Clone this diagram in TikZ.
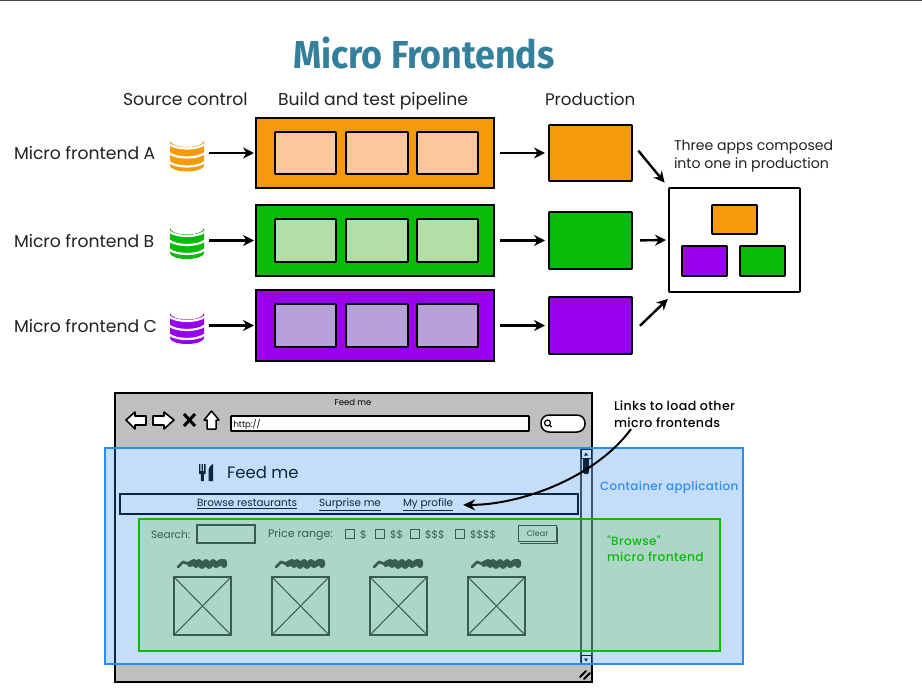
\documentclass[tikz,border=0pt]{standalone}
\usepackage{fontspec}
\setmainfont{Poppins}
\newfontfamily\titlef{Fira Sans}
\newfontfamily\medf[LetterSpace=3]{Poppins Medium}
\usetikzlibrary{arrows.meta,calc}
\definecolor{org}{HTML}{F59A0B}
\definecolor{grn}{HTML}{08BB08}
\definecolor{pur}{HTML}{9900EE}
\definecolor{orgl}{HTML}{FAC89A}
\definecolor{grnl}{HTML}{B2DFA8}
\definecolor{purl}{HTML}{B8A0D8}
\definecolor{teal2}{HTML}{34809C}
\definecolor{ink}{HTML}{222222}
\definecolor{cblue}{HTML}{2E8BF0}
\definecolor{gov}{RGB}{86,182,0}
\colorlet{dimk}{black!82}
\tikzset{
  sz/.style 2 args={minimum width=#1pt,minimum height=#2pt,anchor=north west,inner sep=0pt,outer sep=0pt},
  box/.style={draw=black,line width=1.6pt,rounded corners=0.6pt},
  big/.style={draw=black,line width=2pt},
  txt/.style={font=\fontsize{17.2}{20}\selectfont,inner sep=0pt,outer sep=0pt,anchor=base west,text=ink},
  note/.style={font=\fontsize{14.1}{16}\selectfont,inner sep=0pt,outer sep=0pt,anchor=base west,text=ink},
  lab/.style={font=\medf\fontsize{12}{14}\selectfont,inner sep=0pt,outer sep=0pt,anchor=base west},
  small/.style={inner sep=0pt,outer sep=0pt,anchor=base west,text=black},
  dimsmall/.style={inner sep=0pt,outer sep=0pt,anchor=base west,text=dimk},
  flow/.style={line width=2.4pt,-{Stealth[length=11pt,width=11pt]}},
  pics/dbicon/.style={code={
    \fill[#1] (-17,-12.5) arc[start angle=180,end angle=0,x radius=17,y radius=6.5]
      -- (17,12.5) arc[start angle=0,end angle=180,x radius=17,y radius=6] -- cycle;
    \foreach \yy in {-9,0,9}{
      \draw[white,line width=2.2pt] (-18,\yy) .. controls (-10,\yy+6) and (10,\yy+6) .. (18,\yy);
    }
  }},
  pics/scrib/.style={code={
    \draw[dimk,line width=2.8pt,line cap=round,line join=round]
      (-25,4) -- (-20,-1) -- (-14,1);
    \draw[dimk,line width=6pt,line cap=round,line join=round]
      (-13,1) -- (-9,-1) -- (-7,2) -- (-4,-1) -- (-1,3) -- (3,-1) -- (6,3) -- (10,-1) -- (13,2) -- (18,-1) -- (21,-1) -- (21,2);
  }}
}
\begin{document}
\begin{tikzpicture}[x=1pt,y=-1pt]
\useasboundingbox (0,0) rectangle (922,695);
\fill[white] (0,0) rectangle (922,695);
\fill[black!70] (0,0) rectangle (922,1.2);

% title
\node[inner sep=0pt,text=teal2,font=\titlef\bfseries\fontsize{39}{44}\selectfont,xscale=0.918] (title) at (424,53) {Micro Frontends};

% column heads
\node[txt] (hsrc) at (123,106) {Source control};
\node[txt] (hbuild) at (278,106) {Build and test pipeline};
\node[txt,font=\fontsize{16.7}{20}\selectfont] (hprod) at (545,106) {Production};

% row labels
\node[txt] (labA) at (14,160) {Micro frontend A};
\node[txt] (labB) at (14,248) {Micro frontend B};
\node[txt] (labC) at (14,333) {Micro frontend C};

% repositories
\node[minimum width=34pt,minimum height=38pt,inner sep=0pt] (dbA) at (187,153) {};
\node[minimum width=34pt,minimum height=38pt,inner sep=0pt] (dbB) at (187,240.5) {};
\node[minimum width=34pt,minimum height=38pt,inner sep=0pt] (dbC) at (187,325.5) {};
\pic at (dbA.center) {dbicon=org};
\pic at (dbB.center) {dbicon=grn};
\pic at (dbC.center) {dbicon=pur};

% pipelines
\node[sz={238}{70},big,fill=org] (pipeA) at (256,118) {};
\node[sz={238}{71},big,fill=grn] (pipeB) at (256,205) {};
\node[sz={238}{71},big,fill=pur] (pipeC) at (256,290) {};
\foreach \n/\x/\w in {1/275/61,2/346/62,3/417/61}{
  \node[sz={\w}{42},box,fill=orgl] (pA\n) at (\x,132) {};
  \node[sz={\w}{43},box,fill=grnl] (pB\n) at (\x,219) {};
  \node[sz={\w}{43},box,fill=purl] (pC\n) at (\x,304) {};
}

% production
\node[sz={83}{56},box,fill=org] (prodA) at (549,125) {};
\node[sz={83}{57},box,fill=grn] (prodB) at (549,212) {};
\node[sz={83}{57},box,fill=pur] (prodC) at (549,297) {};

% composed
\node[sz={131}{104},box,fill=white] (comp) at (669,188) {};
\node[sz={45}{29},box,fill=org] (cA) at (712,205) {};
\node[sz={45}{30},box,fill=pur] (cC) at (682,246) {};
\node[sz={45}{30},box,fill=grn] (cB) at (740,246) {};
\node[note] (threeA) at (674,151) {Three apps composed};
\node[note] (threeB) at (674,169) {into one in production};

% flows
\foreach \r in {A,B,C}{
  \draw[flow,shorten <=5pt,shorten >=2pt] (db\r.east) -- (pipe\r.west);
  \draw[flow,shorten <=6pt,shorten >=4pt] (pipe\r.east) -- (prod\r.west);
}
\draw[flow,shorten <=10pt,shorten >=7pt] ([yshift=10pt]prodA.east) -- (comp.north west);
\draw[flow,shorten <=8pt,shorten >=3pt] (prodB.east) -- (comp.west);
\draw[flow,shorten <=11pt,shorten >=10pt] ([yshift=-8pt]prodC.east) -- ([xshift=6pt]comp.south west);

% browser window
\node[sz={477}{289},draw=black,line width=2pt,fill=white] (win) at (115,393) {};
\fill[black!25] (116,394) rectangle (591,448);
\fill[black!25] (116,664) rectangle (591,681);
\node[small,anchor=base,font=\fontsize{8.5}{10}\selectfont] (wtitle) at (353,406) {Feed me};
\draw[fill=white,line width=1.6pt,line join=round] (126,420) -- (135,412) -- (135,416) -- (146,416) -- (146,425) -- (135,425) -- (135,429) -- cycle;
\draw[fill=white,line width=1.6pt,line join=round] (174,420) -- (164,412) -- (164,416) -- (153,416) -- (153,425) -- (164,425) -- (164,429) -- cycle;
\draw[line width=3pt] (184,414) -- (195,426) (195,414) -- (184,426);
\draw[fill=white,line width=1.5pt,line join=round] (211.5,411) -- (219,420) -- (216,420) -- (216,429) -- (207,429) -- (207,420) -- (204,420) -- cycle;
\node[sz={298}{15},box,fill=white] (addr) at (231,416) {};
\node[small,font=\fontsize{8.5}{10}\selectfont] (http) at (233.5,427) {http://};
\node[sz={44}{17},draw=black,line width=1.5pt,fill=white,rounded corners=8pt] (sbox) at (541,415) {};
\draw[line width=1.2pt] (547.5,423) circle (3pt) (549.5,425) -- (551.5,427);

% page content
\fill[black] (199,464) rectangle (200.3,472) (201.6,464) rectangle (202.9,472) (204.2,464) rectangle (205.5,472)
  (199,471) rectangle (205.5,474) (200.8,473) rectangle (203.9,481);
\fill[black] (208.5,481) -- (208.5,470) .. controls (208.5,467) and (211,465) .. (213,464) -- (213,481) -- cycle;
\node[txt,font=\fontsize{16.5}{20}\selectfont,text=black] (feed) at (227,478) {Feed me};
\node[sz={458}{20},draw=black,line width=1.8pt] (navbar) at (120,494) {};
\node[small,font=\fontsize{10.4}{12}\selectfont] (lnk1) at (197,506.5) {\underline{Browse restaurants}};
\node[small,font=\fontsize{10.4}{12}\selectfont] (lnk2) at (319,506.5) {\underline{Surprise me}};
\node[small,font=\fontsize{10.4}{12}\selectfont] (lnk3) at (403,506.5) {\underline{My profile}};

\node[dimsmall,font=\fontsize{10.5}{12}\selectfont] (srch) at (151,538) {Search:};
\node[sz={58}{18},draw=dimk,line width=1.5pt] (srchbox) at (197,525) {};
\node[dimsmall,font=\fontsize{11}{12}\selectfont] (price) at (268,537) {Price range:};
\foreach \n/\x/\t in {1/345/\$,2/375/\$\$,3/410/\$\$\$,4/455/\$\$\$\$}{
  \node[sz={9}{9},draw=dimk,line width=0.8pt] (chk\n) at (\x,529) {};
  \node[dimsmall,font=\fontsize{10.5}{12}\selectfont] (pr\n) at (\x+15,538) {\t};
}
\node[sz={38}{16},draw=dimk,line width=1.5pt] (clear) at (518.5,525.5) {};
\draw[dimk,line width=1.5pt] ($(clear.south west)+(1,2)$) -- ($(clear.south east)+(1,2)$) -- ($(clear.north east)+(1,1)$);
\node[dimsmall,anchor=center,font=\fontsize{8}{10}\selectfont] (cleart) at (clear.center) {Clear};

\foreach \n/\x in {1/174,2/272,3/370,4/468}{
  \node[sz={57}{58},draw=dimk,line width=1.6pt] (img\n) at (\x,577) {};
  \draw[dimk,line width=1pt] (img\n.north west) -- (img\n.south east) (img\n.north east) -- (img\n.south west);
  \pic at (\x+29,563) {scrib};
}

% scroll bar
\node[sz={11}{215},draw=black!75,line width=1.2pt] (sbar) at (581,449) {};
\node[sz={10}{9},draw=black,line width=1pt] (sup1) at (581,449) {};
\node[sz={6}{16},fill=black,rounded corners=1.5pt] (thumb) at (583,458) {};
\node[sz={10}{9},draw=black,line width=1pt] (sdn1) at (581,655) {};
\fill[black] (584,455.5) -- (586,452.5) -- (588,455.5) -- cycle;
\fill[black] (584,658.5) -- (586,661.5) -- (588,658.5) -- cycle;
\draw[line width=1.8pt,line cap=round] (580,677) -- (586,671) (584,679) -- (590,673);

% overlays
\node[sz={638}{216},fill=cblue,fill opacity=0.28] (contfill) at (105,448) {};
\node[sz={581}{132},fill=gov,fill opacity=0.2] (mffill) at (139,519) {};
\node[sz={638}{216},draw=cblue,line width=1.6pt] (cont) at (105,448) {};
\node[sz={581}{132},draw=grn,line width=1.6pt] (mf) at (139,519) {};

% overlay labels
\node[lab,text=cblue,font=\medf\fontsize{11.9}{14}\selectfont] (cap1) at (600,490) {Container application};
\node[lab,text=grn] (cap2) at (607,545) {"Browse"};
\node[lab,text=grn,font=\medf\fontsize{12.3}{14}\selectfont] (cap3) at (607,561.5) {micro frontend};
\node[lab,text=black,font=\medf\fontsize{12.6}{14}\selectfont] (linksA) at (614,410) {Links to load other};
\node[lab,text=black,font=\medf\fontsize{12.6}{14}\selectfont] (linksB) at (614,427) {micro frontends};
\draw[line width=2pt,-{Stealth[length=12pt,width=11pt]},shorten >=10pt] ([xshift=17pt,yshift=-2pt]linksB.south west) .. controls (595,478) and (520,505) .. (lnk3.east);
\end{tikzpicture}
\end{document}
